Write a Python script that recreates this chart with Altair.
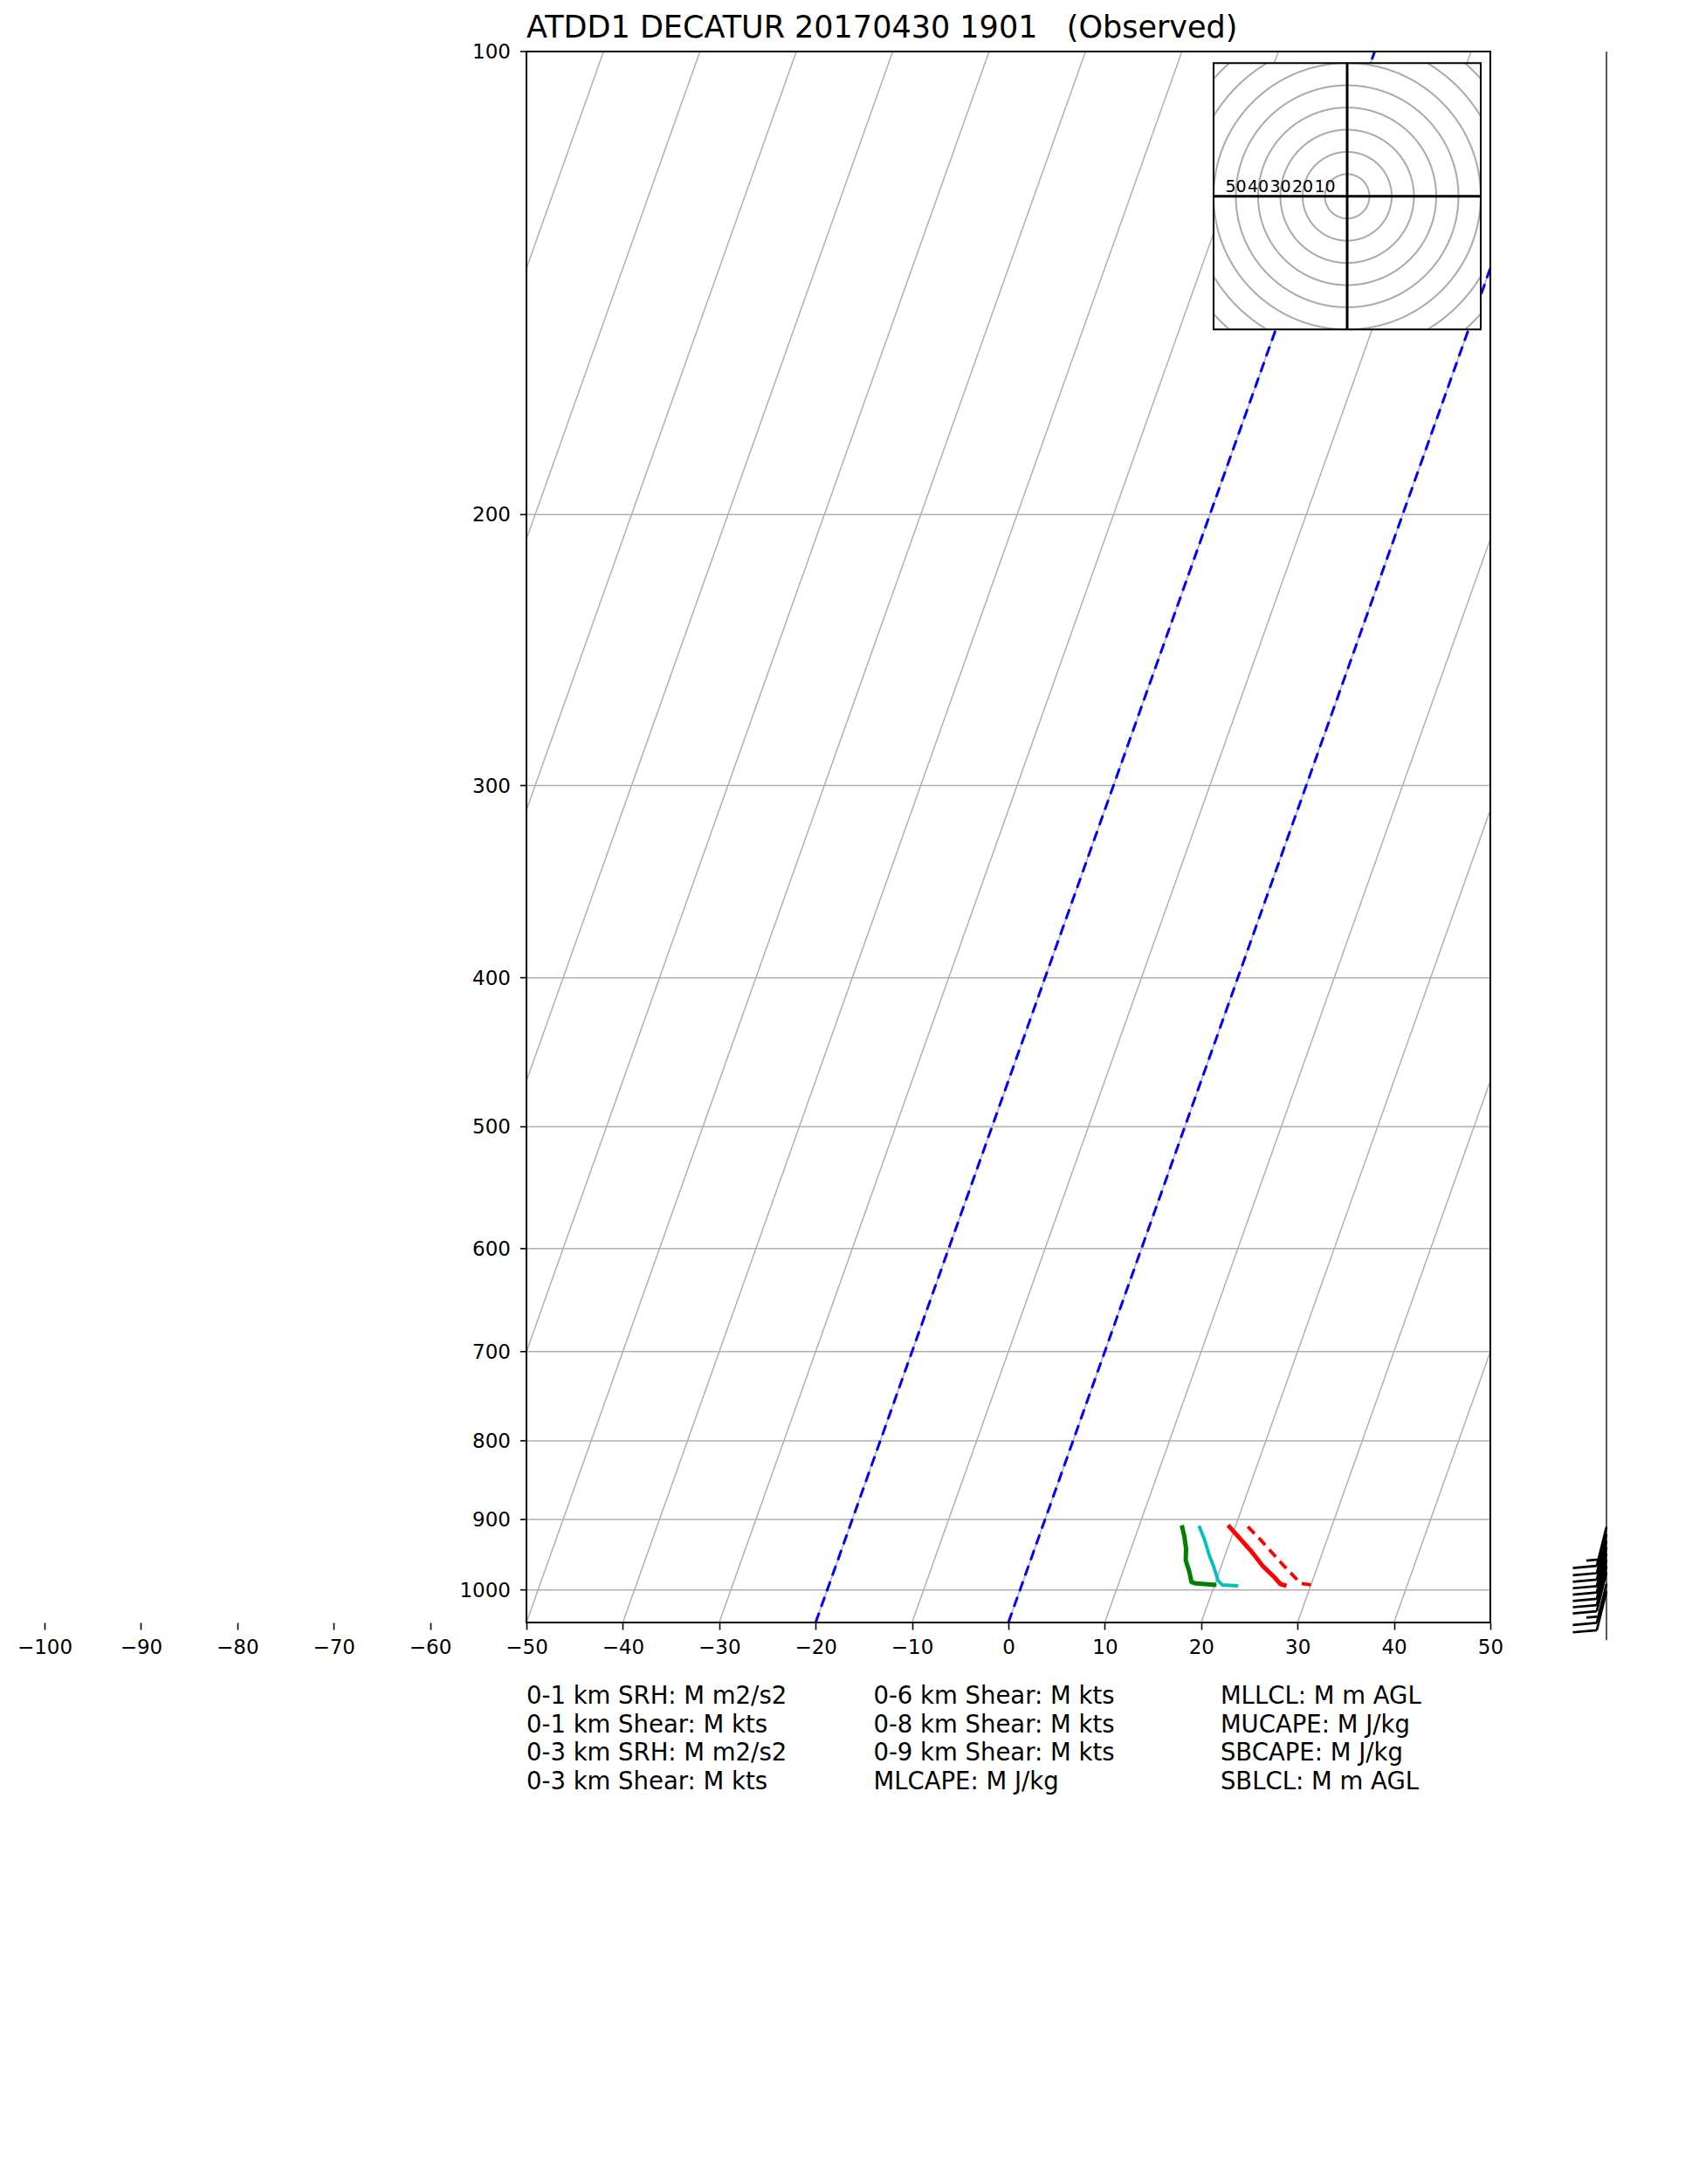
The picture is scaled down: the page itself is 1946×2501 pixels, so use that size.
import math
import pandas as pd
import altair as alt

FONT = "DejaVu Sans"

# ---------------- data ----------------
title_text = "ATDD1 DECATUR 20170430 1901\u00a0\u00a0\u00a0(Observed)"

x_tick_values = list(range(-100, 51, 10))
pressure_ticks = [100, 200, 300, 400, 500, 600, 700, 800, 900, 1000]
highlight_isotherms = [-20, 0]

# temperature (red solid)
temp_p = [907.8, 925.8, 944.2, 964.8, 982.0, 991.3, 993.9]
temp_t = [19.2, 20.9, 22.6, 24.3, 26.0, 26.8, 27.5]
# dewpoint (green)
dewp_p = [907.8, 923.7, 940.0, 956.6, 973.2, 988.3, 990.4, 992.6]
dewp_t = [14.4, 15.1, 15.7, 16.1, 16.9, 17.5, 18.0, 20.2]
# wet-bulb (cyan)
wetb_p = [908.5, 927.7, 948.3, 967.0, 986.1, 992.6, 993.9]
wetb_t = [16.2, 17.3, 18.3, 19.3, 20.2, 20.8, 22.5]
# virtual temperature (red dashed)
virt_p = [909.7, 927.7, 946.2, 969.1, 986.1, 990.4, 992.6]
virt_t = [21.3, 23.1, 24.8, 26.9, 28.5, 28.9, 30.0]

# wind barbs
wind_p = [910, 920, 929, 938, 947, 956, 965, 974, 991, 1002]
wind_spd = [15, 10, 10, 10, 10, 10, 10, 10, 15, 10]
wind_dir = [194, 194, 194, 194, 194, 194, 194, 194, 194, 194]

# hodograph
hodo_rings = [10, 20, 30, 40, 50, 60, 70, 80]
hodo_ring_labels = [10, 20, 30, 40, 50]

stats_col1 = ["0-1 km SRH: M m2/s2", "0-1 km Shear: M kts", "0-3 km SRH: M m2/s2", "0-3 km Shear: M kts"]
stats_col2 = ["0-6 km Shear: M kts", "0-8 km Shear: M kts", "0-9 km Shear: M kts", "MLCAPE: M J/kg"]
stats_col3 = ["MLLCL: M m AGL", "MUCAPE: M J/kg", "SBCAPE: M J/kg", "SBLCL: M m AGL"]
stats_frac = [0.0, 0.36, 0.72]

# ---------------- layout constants ----------------
PLOT_W, PLOT_H = 1656, 1799
X_DOMAIN = [-100, 50]
FRAME_X = [-50, 50]
P_DOMAIN = [100, 1050]
SKEW_DEG = 58.0
PX_PER_DEG = PLOT_W / (X_DOMAIN[1] - X_DOMAIN[0])
BARB_X = 62.05
BARB_LINE_P = [100, 1078]
HODO_LIM = 60
HODO_RANGE_X = [1339, 1645]
HODO_RANGE_Y = [318.3, 13.3]


def skew(t, p):
    return t + SKEW_DEG * math.log(P_DOMAIN[1] / p) / math.log(P_DOMAIN[1] / P_DOMAIN[0])


def p_from_f(f):
    return P_DOMAIN[1] / (P_DOMAIN[1] / P_DOMAIN[0]) ** f


def isotherm_segment(t):
    f_lo = max(0.0, (FRAME_X[0] - t) / SKEW_DEG)
    f_hi = min(1.0, (FRAME_X[1] - t) / SKEW_DEG)
    if f_hi <= f_lo:
        return None
    return {"x1": t + SKEW_DEG * f_lo, "x2": t + SKEW_DEG * f_hi,
            "p1": p_from_f(f_lo), "p2": p_from_f(f_hi)}


iso_df = pd.DataFrame([s for s in (isotherm_segment(t) for t in x_tick_values) if s])
blue_df = pd.DataFrame([s for s in (isotherm_segment(t) for t in highlight_isotherms) if s])
pgrid_df = pd.DataFrame({"p": pressure_ticks, "x1": FRAME_X[0], "x2": FRAME_X[1]})
frame_df = pd.DataFrame([{"x1": FRAME_X[0], "x2": FRAME_X[1], "p1": P_DOMAIN[0], "p2": P_DOMAIN[1]}])
ylab_df = pd.DataFrame({"p": pressure_ticks, "x": FRAME_X[0],
                        "x2": FRAME_X[0] - 7 / PX_PER_DEG,
                        "lab": [str(v) for v in pressure_ticks]})


def profile(ps, ts):
    return pd.DataFrame({"p": ps, "x": [skew(t, p) for t, p in zip(ts, ps)], "i": range(len(ps))})


temp_df = profile(temp_p, temp_t)
dewp_df = profile(dewp_p, dewp_t)
wetb_df = profile(wetb_p, wetb_t)
virt_df = profile(virt_p, virt_t)


def barb_path(spd):
    L, sp, fl, hl, sl = 46, 7.5, 26, 13, 9
    parts = [f"M0,0L0,{L}"]
    n_full = int(spd // 10)
    half = (spd % 10) >= 5
    y = L
    for _ in range(n_full):
        parts.append(f"M0,{y}L{-fl},{y + sl}")
        y -= sp
    if half:
        if n_full == 0:
            y = L - sp
        parts.append(f"M0,{y}L{-hl},{y + sl / 2}")
    return "".join(parts)


barb_df = pd.DataFrame({"p": wind_p, "x": BARB_X,
                        "shape": [barb_path(s) for s in wind_spd],
                        "ang": [d - 180 for d in wind_dir]})
barb_line_df = pd.DataFrame([{"x": BARB_X, "p1": BARB_LINE_P[0], "p2": BARB_LINE_P[1]}])

title_df = pd.DataFrame([{"x": FRAME_X[0], "t": title_text}])
stats_df = [pd.DataFrame([{"x": FRAME_X[0] + f * (FRAME_X[1] - FRAME_X[0]), "t": "\n".join(col)}])
            for f, col in zip(stats_frac, [stats_col1, stats_col2, stats_col3])]

# hodograph rings (clipped to the inset square)
ring_rows = []
N = 1440
for r in hodo_rings:
    seg, prev_in, idx = 0, False, 0
    for k in range(N + 1):
        a = 2 * math.pi * k / N
        u, v = r * math.cos(a), r * math.sin(a)
        inside = abs(u) <= HODO_LIM + 1e-9 and abs(v) <= HODO_LIM + 1e-9
        if inside:
            if not prev_in:
                seg += 1
            ring_rows.append({"u": u, "v": v, "seg": f"{r}-{seg}", "i": idx})
            idx += 1
        prev_in = inside
ring_df = pd.DataFrame(ring_rows)
hbox_df = pd.DataFrame([{"u1": -HODO_LIM, "u2": HODO_LIM, "v1": -HODO_LIM, "v2": HODO_LIM}])
hcross_df = pd.DataFrame([
    {"u1": -HODO_LIM, "u2": HODO_LIM, "v1": 0, "v2": 0},
    {"u1": 0, "u2": 0, "v1": -HODO_LIM, "v2": HODO_LIM},
])
hlab_df = pd.DataFrame({"u": [-r for r in hodo_ring_labels], "v": 0,
                        "t": [str(r) for r in hodo_ring_labels]})

# ---------------- scales / encodings ----------------
xs = alt.Scale(domain=X_DOMAIN, nice=False, zero=False)
ys = alt.Scale(type="log", domain=P_DOMAIN, reverse=True, nice=False)
xaxis = alt.Axis(values=x_tick_values, format="d", domain=False, grid=False, ticks=True,
                 tickSize=8, tickWidth=1.6, tickColor="black", labelFont=FONT,
                 labelFontSize=23, labelColor="black", labelPadding=9,
                 labelFlush=False, labelOverlap=False, title=None)


def X(f):
    return alt.X(f"{f}:Q", scale=xs, axis=xaxis)


def Y(f):
    return alt.Y(f"{f}:Q", scale=ys, axis=None)


GRID = "#b0b0b0"

iso = alt.Chart(iso_df).mark_rule(color=GRID, strokeWidth=1.5).encode(
    x=X("x1"), x2="x2:Q", y=Y("p1"), y2="p2:Q")
pgrid = alt.Chart(pgrid_df).mark_rule(color=GRID, strokeWidth=1.5).encode(
    x=X("x1"), x2="x2:Q", y=Y("p"))
blue = alt.Chart(blue_df).mark_rule(color="#0000ff", strokeWidth=3, strokeDash=[12, 7]).encode(
    x=X("x1"), x2="x2:Q", y=Y("p1"), y2="p2:Q")


def line(df, color, width, dash=None):
    kw = dict(color=color, strokeWidth=width, strokeJoin="round")
    if dash:
        kw["strokeDash"] = dash
    return alt.Chart(df).mark_line(**kw).encode(x=X("x"), y=Y("p"), order="i:Q")


l_dewp = line(dewp_df, "#008000", 5)
l_wetb = line(wetb_df, "#00bfbf", 3.8)
l_temp = line(temp_df, "#ff0000", 5)
l_virt = line(virt_df, "#ff0000", 3.8, [11, 7])

frame = alt.Chart(frame_df).mark_rect(fillOpacity=0, stroke="black", strokeWidth=2).encode(
    x=X("x1"), x2="x2:Q", y=Y("p1"), y2="p2:Q")
yticks = alt.Chart(ylab_df).mark_rule(color="black", strokeWidth=1.6).encode(
    x=X("x2"), x2="x:Q", y=Y("p"))
ylabels = alt.Chart(ylab_df).mark_text(align="right", baseline="middle", dx=-18, dy=1,
                                       font=FONT, fontSize=23, color="black").encode(
    x=X("x"), y=Y("p"), text="lab:N")

title = alt.Chart(title_df).mark_text(align="left", baseline="alphabetic", font=FONT,
                                      fontSize=35, color="black").encode(
    x=X("x"), y=alt.value(-16), text="t:N")
stats = [alt.Chart(d).mark_text(align="left", baseline="alphabetic", font=FONT, fontSize=27.5,
                                color="black", lineBreak="\n", lineHeight=32.7).encode(
    x=X("x"), y=alt.value(1892), text="t:N") for d in stats_df]

barb_line = alt.Chart(barb_line_df).mark_rule(color="black", strokeWidth=1.3).encode(
    x=X("x"), y=Y("p1"), y2="p2:Q")
barbs = alt.Chart(barb_df).mark_point(filled=False, color="black", strokeWidth=2.7,
                                      opacity=1, strokeCap="butt").encode(
    x=X("x"), y=Y("p"),
    shape=alt.Shape("shape:N", scale=None),
    angle=alt.Angle("ang:Q", scale=None),
    size=alt.value(4))

main = alt.layer(iso, pgrid, blue, l_dewp, l_wetb, l_temp, l_virt, frame, yticks, ylabels,
                 title, *stats, barb_line, barbs)

hxs = alt.Scale(domain=[-HODO_LIM, HODO_LIM], range=HODO_RANGE_X, nice=False, zero=False)
hys = alt.Scale(domain=[-HODO_LIM, HODO_LIM], range=HODO_RANGE_Y, nice=False, zero=False)


def HX(f):
    return alt.X(f"{f}:Q", scale=hxs, axis=None)


def HY(f):
    return alt.Y(f"{f}:Q", scale=hys, axis=None)


hbg = alt.Chart(hbox_df).mark_rect(fill="white", strokeWidth=0).encode(
    x=HX("u1"), x2="u2:Q", y=HY("v1"), y2="v2:Q")
hrings = alt.Chart(ring_df).mark_line(color="#aaaaaa", strokeWidth=2).encode(
    x=HX("u"), y=HY("v"), detail="seg:N", order="i:Q")
hcross = alt.Chart(hcross_df).mark_rule(color="black", strokeWidth=3).encode(
    x=HX("u1"), x2="u2:Q", y=HY("v1"), y2="v2:Q")
hlabels = alt.Chart(hlab_df).mark_text(align="center", baseline="alphabetic", dy=-5,
                                       font=FONT, fontSize=19, color="black").encode(
    x=HX("u"), y=HY("v"), text="t:N")
hborder = alt.Chart(hbox_df).mark_rect(fillOpacity=0, stroke="black", strokeWidth=2).encode(
    x=HX("u1"), x2="u2:Q", y=HY("v1"), y2="v2:Q")

hodo = alt.layer(hbg, hrings, hcross, hlabels, hborder)

chart = alt.layer(main, hodo).resolve_scale(x="independent", y="independent").properties(
    width=PLOT_W, height=PLOT_H,
    autosize=alt.AutoSizeParams(type="none"),
    padding={"left": 43, "top": 51, "right": 220, "bottom": 600},
    background="white",
).configure_view(stroke=None)

chart.save("out.html", embed_options={"renderer": "svg", "actions": False})
